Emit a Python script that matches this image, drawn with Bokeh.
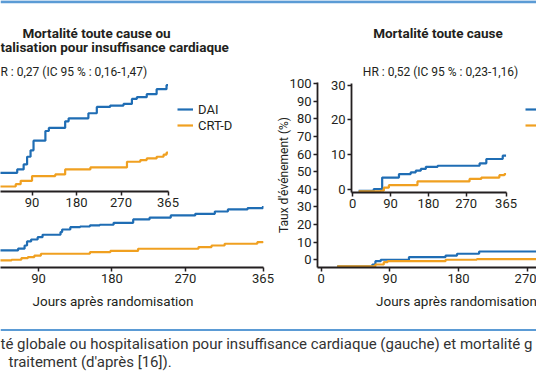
from bokeh.plotting import figure
from bokeh.models import Range1d, FixedTicker, Legend, LegendItem, Label, Span, GridBox
from bokeh.core.properties import value
from bokeh.embed import file_html
from bokeh.resources import INLINE

FONT = "Roboto"
INK = "#231f20"
BLUE = "#1f6db4"
ORANGE = "#f0a020"
RULE = "#5b9bd5"

# ---------------- data (days, cumulative event rate %) ----------------
# left panel, main curves
lm_days_dai = [40, 65, 73, 76, 81, 89, 95, 117, 119, 129, 141, 153, 165, 182, 206, 226, 252, 282, 306, 322, 346, 365]
lm_dai = [5.3, 6.3, 8.1, 10.4, 11.5, 12.8, 14.2, 15.7, 17.2, 18.5, 18.9, 19.5, 19.9, 21.0, 22.9, 23.9, 25.2, 26.1, 27.4, 28.6, 29.3, 30.5]
lm_days_crt = [40, 57, 69, 77, 85, 93, 153, 178, 212, 286, 302, 318, 358, 365]
lm_crt = [-0.4, 0.0, 0.9, 1.5, 2.4, 3.4, 4.3, 5.0, 6.25, 7.2, 8.1, 9.1, 10.0, 10.4]

# left panel, inset curves
li_days_dai = [20, 60, 73, 80, 87, 93, 117, 124, 157, 164, 204, 221, 248, 275, 292, 302, 322, 342, 362, 365]
li_dai = [5.1, 6.1, 7.6, 9.9, 11.8, 14.7, 17.6, 18.5, 20.5, 21.4, 22.9, 24.8, 25.2, 25.7, 27.2, 27.7, 28.6, 30.1, 31.3, 31.3]
li_days_crt = [20, 57, 67, 90, 137, 157, 208, 282, 309, 322, 342, 356, 362, 365]
li_crt = [1.0, 1.7, 2.7, 4.1, 4.6, 6.1, 6.7, 8.4, 8.9, 9.4, 9.9, 10.5, 11.1, 11.1]

# right panel, main curves
rm_days_dai = [21, 67, 71, 78, 115, 163, 178, 207, 285]
rm_dai = [-3.8, -2.7, -0.8, 0.0, 1.5, 2.4, 3.4, 4.7, 4.7]
rm_days_crt = [21, 71, 82, 87, 163, 204, 285]
rm_crt = [-3.8, -2.7, -1.4, -0.8, 0.0, 0.4, 0.4]

# right panel, inset curves
ri_days_dai = [14, 50, 70, 110, 138, 150, 162, 174, 202, 302, 318, 357, 365]
ri_dai = [-0.4, 0.1, 3.4, 4.4, 4.9, 5.4, 5.9, 6.5, 6.8, 7.5, 8.75, 9.7, 9.7]
ri_days_crt = [14, 66, 74, 86, 154, 278, 306, 349, 361, 365]
ri_crt = [-0.6, -0.4, 0.5, 1.2, 2.3, 3.0, 3.4, 4.1, 4.4, 4.4]

series_names = ["DAI", "CRT-D"]
x_ticks = [0, 90, 180, 270, 365]
main_y_ticks = [0, 10, 20, 30, 40, 50, 60, 70, 80, 90, 100]
inset_y_ticks = [0, 10, 20, 30]

titles_left = ["Mortalité toute cause ou", "talisation pour insuffisance cardiaque"]
hr_left = "R : 0,27 (IC 95 % : 0,16-1,47)"
title_right = "Mortalité toute cause"
hr_right = "HR : 0,52 (IC 95 % : 0,23-1,16)"
x_label = "Jours après randomisation"
y_label = "Taux d'événement (%)"
caption = ["té globale ou hospitalisation pour insuffisance cardiaque (gauche) et mortalité g",
           "traitement (d'après [16])."]


def style_axis(ax):
    ax.axis_line_color = INK
    ax.axis_line_width = 1.8
    ax.major_tick_line_color = INK
    ax.major_tick_line_width = 1.5
    ax.major_tick_out = 4
    ax.major_tick_in = 0
    ax.minor_tick_line_color = None
    ax.major_label_text_font = FONT
    ax.major_label_text_font_size = "13px"
    ax.major_label_text_color = INK
    ax.major_label_standoff = 2


def make_fig(w, h, xr, yr, borders, y_axis=False):
    p = figure(width=w, height=h, x_range=Range1d(*xr), y_range=Range1d(*yr),
               output_backend="svg", toolbar_location=None,
               x_axis_location="below", y_axis_location=("left" if y_axis else None),
               min_border_left=borders[0], min_border_top=borders[1],
               min_border_right=borders[2], min_border_bottom=borders[3])
    p.background_fill_color = None
    p.border_fill_color = None
    p.outline_line_color = None
    p.grid.visible = False
    for ax in p.axis:
        style_axis(ax)
    return p


def add_curves(p, d1, v1, d2, v2):
    r1 = p.step(d1, v1, mode="after", line_color=BLUE, line_width=2.2)
    r2 = p.step(d2, v2, mode="after", line_color=ORANGE, line_width=2.2)
    return r1, r2


def add_legend(p, r1, r2, loc, labels):
    leg = Legend(items=[LegendItem(label=value(labels[0]), renderers=[r1]),
                        LegendItem(label=value(labels[1]), renderers=[r2])],
                 location=loc, padding=0, margin=0, spacing=0,
                 glyph_width=16, glyph_height=16, label_height=16, label_standoff=5,
                 label_text_font=FONT, label_text_font_size="13px", label_text_color=INK,
                 background_fill_alpha=0, border_line_color=None)
    p.add_layout(leg, "center")


# ---------------- background / text canvas ----------------
bg = figure(width=536, height=386, x_range=Range1d(0, 536), y_range=Range1d(386, 0),
            output_backend="svg", toolbar_location=None,
            x_axis_location=None, y_axis_location=None,
            min_border_left=0, min_border_right=0, min_border_top=0, min_border_bottom=0)
bg.outline_line_color = None
bg.grid.visible = False
bg.background_fill_color = "white"
bg.border_fill_color = "white"
bg.add_layout(Span(location=1.3, dimension="width", line_color=RULE, line_width=3))
bg.add_layout(Span(location=329.5, dimension="width", line_color=RULE, line_width=2))


def lbl(x, y, t, size="13px", bold=False, align="left", color=INK, angle=0):
    bg.add_layout(Label(x=x, y=y, text=t, text_font=FONT, text_font_size=size,
                        text_font_style=("bold" if bold else "normal"), text_color=color,
                        text_align=align, text_baseline="middle", angle=angle))


lbl(96, 32, titles_left[0], size="13.5px", bold=True, align="center")
lbl(0, 46, titles_left[1], size="13.5px", bold=True, align="left")
lbl(0, 71, hr_left, size="12px", align="left")
lbl(437.5, 32, title_right, size="13.5px", bold=True, align="center")
lbl(440, 71, hr_right, size="12px", align="center")
lbl(112.5, 300.5, x_label, size="13.5px", align="center")
lbl(456, 300.5, x_label, size="13.5px", align="center")
lbl(0, 343, caption[0], size="15px", color="#333333")
lbl(8, 361.5, caption[1], size="15px", color="#333333")

# ---------------- left main ----------------
lm = make_fig(280, 230, (43.5, 365.6), (-4.4, 100.7), (0, 12, 17, 33))
lm.xaxis.ticker = FixedTicker(ticks=x_ticks)
r1, r2 = add_curves(lm, lm_days_dai, lm_dai, lm_days_crt, lm_crt)
add_legend(lm, r1, r2, (177, 134), series_names)

# ---------------- left inset ----------------
li = make_fig(182, 143, (26.2, 366.0), (-0.5, 32.1), (0, 8, 14, 22))
li.xaxis.ticker = FixedTicker(ticks=x_ticks)
add_curves(li, li_days_dai, li_dai, li_days_crt, li_crt)

# ---------------- right main ----------------
rm = make_fig(268, 230, (-4.9, 282.2), (-4.4, 100.7), (49, 12, 0, 33), y_axis=True)
rm.xaxis.ticker = FixedTicker(ticks=x_ticks)
rm.yaxis.ticker = FixedTicker(ticks=main_y_ticks)
rm.yaxis.axis_label = y_label
rm.yaxis.axis_label_text_font = FONT
rm.yaxis.axis_label_text_font_size = "12px"
rm.yaxis.axis_label_text_font_style = "normal"
rm.yaxis.axis_label_text_color = INK
rm.yaxis.axis_label_standoff = -4
r1, r2 = add_curves(rm, rm_days_dai, rm_dai, rm_days_crt, rm_crt)
# the right legend's labels fall outside the cropped picture: only its line keys show
add_legend(rm, r1, r2, (208, 134), ["", ""])

# ---------------- right inset ----------------
ri = make_fig(195, 139, (-3.0, 366.0), (-0.9, 30.5), (26, 8, 14, 22), y_axis=True)
ri.xaxis.ticker = FixedTicker(ticks=x_ticks)
ri.yaxis.ticker = FixedTicker(ticks=inset_y_ticks)
add_curves(ri, ri_days_dai, ri_dai, ri_days_crt, ri_crt)

# ---------------- overlapping grid placement ----------------
boxes = [
    (bg, 0, 0, 536, 386),
    (lm, 0, 70, 280, 300),
    (rm, 268, 70, 536, 300),
    (li, 0, 70, 182, 213),
    (ri, 325, 75, 520, 214),
]
xs = sorted({b[1] for b in boxes} | {b[3] for b in boxes})
ys = sorted({b[2] for b in boxes} | {b[4] for b in boxes})
cols = [f"{b - a}px" for a, b in zip(xs[:-1], xs[1:])]
rows = [f"{b - a}px" for a, b in zip(ys[:-1], ys[1:])]
children = []
for fig, l, t, r, b in boxes:
    ci, cj = xs.index(l), xs.index(r)
    ri_, rj = ys.index(t), ys.index(b)
    children.append((fig, ri_, ci, rj - ri_, cj - ci))

root = GridBox(children=children, rows=rows, cols=cols, spacing=0, width=536, height=386)

open("out.html", "w").write(file_html(root, INLINE))
